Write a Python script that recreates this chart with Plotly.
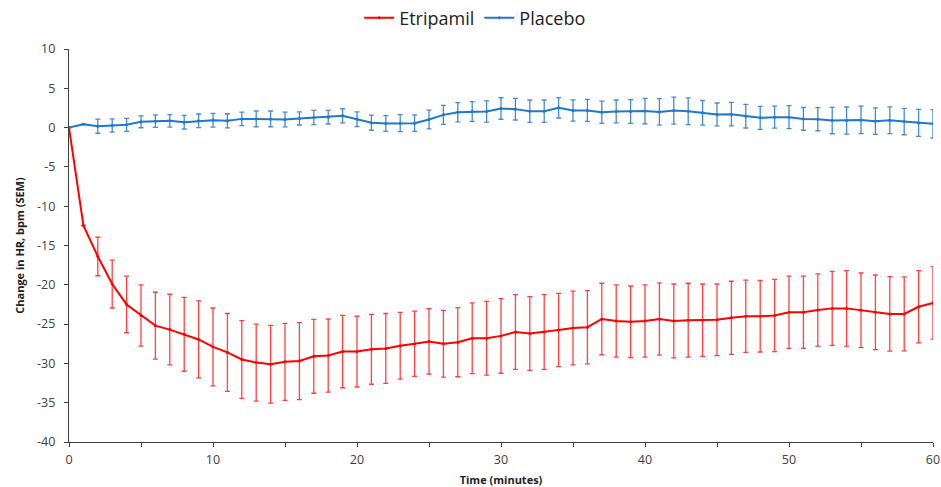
import plotly.graph_objects as go

minutes = list(range(0, 61))

etripamil = [0.0, -12.45, -16.4, -19.9, -22.5, -23.9, -25.2, -25.7, -26.3, -26.95,
             -27.9, -28.6, -29.5, -29.9, -30.1, -29.8, -29.7, -29.1, -29.0, -28.5,
             -28.5, -28.2, -28.1, -27.75, -27.5, -27.2, -27.5, -27.3, -26.8, -26.8,
             -26.5, -26.0, -26.2, -26.0, -25.75, -25.5, -25.4, -24.35, -24.6, -24.7,
             -24.6, -24.35, -24.6, -24.5, -24.5, -24.45, -24.2, -24.0, -24.0, -23.9,
             -23.5, -23.5, -23.2, -23.0, -23.0, -23.25, -23.5, -23.7, -23.7, -22.8,
             -22.3]
etripamil_sem = [0, 0, 2.45, 3.05, 3.6, 3.9, 4.25, 4.5, 4.7, 4.9,
                 4.95, 4.95, 4.95, 4.9, 4.95, 4.9, 4.9, 4.7, 4.65, 4.6,
                 4.5, 4.45, 4.45, 4.25, 4.15, 4.15, 4.25, 4.4, 4.5, 4.7,
                 4.75, 4.75, 4.7, 4.75, 4.65, 4.7, 4.65, 4.55, 4.6, 4.55,
                 4.6, 4.6, 4.7, 4.7, 4.6, 4.55, 4.65, 4.6, 4.55, 4.6,
                 4.6, 4.6, 4.6, 4.7, 4.8, 4.75, 4.75, 4.75, 4.7, 4.6,
                 4.6]

placebo = [0.0, 0.43, 0.18, 0.27, 0.35, 0.73, 0.82, 0.86, 0.69, 0.86,
           0.94, 0.86, 1.11, 1.11, 1.11, 1.03, 1.16, 1.29, 1.33, 1.5,
           1.07, 0.62, 0.52, 0.56, 0.56, 1.03, 1.62, 1.96, 2.05, 2.05,
           2.43, 2.35, 2.09, 2.09, 2.52, 2.18, 2.18, 1.96, 2.05, 2.05,
           2.11, 2.0, 2.16, 2.09, 1.88, 1.67, 1.71, 1.45, 1.24, 1.33,
           1.33, 1.11, 1.07, 0.9, 0.9, 0.98, 0.82, 0.94, 0.77, 0.6,
           0.48]
placebo_sem = [0, 0, 0.9, 0.85, 0.83, 0.75, 0.8, 0.8, 0.87, 0.87,
               0.87, 0.9, 0.87, 1.0, 1.0, 0.95, 0.83, 0.9, 0.87, 0.9,
               0.93, 0.96, 1.0, 1.08, 1.05, 1.2, 1.2, 1.23, 1.25, 1.36,
               1.37, 1.38, 1.42, 1.42, 1.3, 1.36, 1.4, 1.42, 1.46, 1.5,
               1.62, 1.68, 1.72, 1.7, 1.57, 1.46, 1.5, 1.5, 1.46, 1.4,
               1.47, 1.45, 1.47, 1.68, 1.72, 1.75, 1.68, 1.7, 1.68, 1.72,
               1.8]

x_tickvals = list(range(0, 61, 5))
x_ticktext = ["0", "", "10", "", "20", "", "30", "", "40", "", "50", "", "60"]
y_tickvals = list(range(-40, 11, 5))
y_ticktext = ["-40", "-35", "-30", "-25", "-20", "-15", "-10", "-5", "0", "5", "10"]

RED = "#FF0000"
BLUE = "#1F78C8"
AXIS = "#404040"

fig = go.Figure()
fig.add_trace(go.Scatter(
    x=minutes, y=etripamil, name="Etripamil", mode="lines+markers",
    line=dict(color=RED, width=2), marker=dict(color=RED, size=3),
    error_y=dict(type="data", array=etripamil_sem, visible=True,
                 color="rgba(255,0,0,0.75)", thickness=1.3, width=2.5),
))
fig.add_trace(go.Scatter(
    x=minutes, y=placebo, name="Placebo", mode="lines+markers",
    line=dict(color=BLUE, width=2), marker=dict(color=BLUE, size=3),
    error_y=dict(type="data", array=placebo_sem, visible=True,
                 color="rgba(20,110,200,0.8)", thickness=1.3, width=2.5),
))

axis_font = dict(family="Open Sans, Liberation Sans, sans-serif", size=12.5, color=AXIS)
fig.update_layout(
    width=941, height=487,
    margin=dict(l=69, r=8, t=49, b=45),
    paper_bgcolor="white", plot_bgcolor="white",
    font=dict(family="Open Sans, Liberation Sans, sans-serif", color="#222222"),
    showlegend=True,
    legend=dict(orientation="h", xref="container", yref="container",
                x=0.505, xanchor="center", y=0.963, yanchor="middle",
                font=dict(family="Open Sans, Liberation Sans, sans-serif", size=18, color="#222222"),
                itemwidth=30, traceorder="normal"),
    xaxis=dict(range=[0, 60], tickvals=x_tickvals, ticktext=x_ticktext, automargin=False,
               showgrid=False, zeroline=False, showline=True, linecolor=AXIS, linewidth=1.3,
               ticks="outside", ticklen=4, tickcolor=AXIS, tickfont=axis_font,
               ticklabelstandoff=2, ticklabeloverflow="allow",
               title=dict(text="<b>Time (minutes)</b>", font=dict(size=11, color="#222222"), standoff=9)),
    yaxis=dict(range=[-40, 10], tickvals=y_tickvals, ticktext=y_ticktext, automargin=False,
               showgrid=False, zeroline=False, showline=True, linecolor=AXIS, linewidth=1.3,
               ticks="outside", ticklen=4, tickcolor=AXIS, tickfont=axis_font,
               ticklabelstandoff=6,
               title=dict(text="<b>Change in HR, bpm (SEM)</b>", font=dict(size=11, color="#222222"), standoff=10)),
)

fig.write_html("out.html", config={"displayModeBar": False},
               post_script="document.body.style.margin='0';document.body.style.overflow='hidden';")
